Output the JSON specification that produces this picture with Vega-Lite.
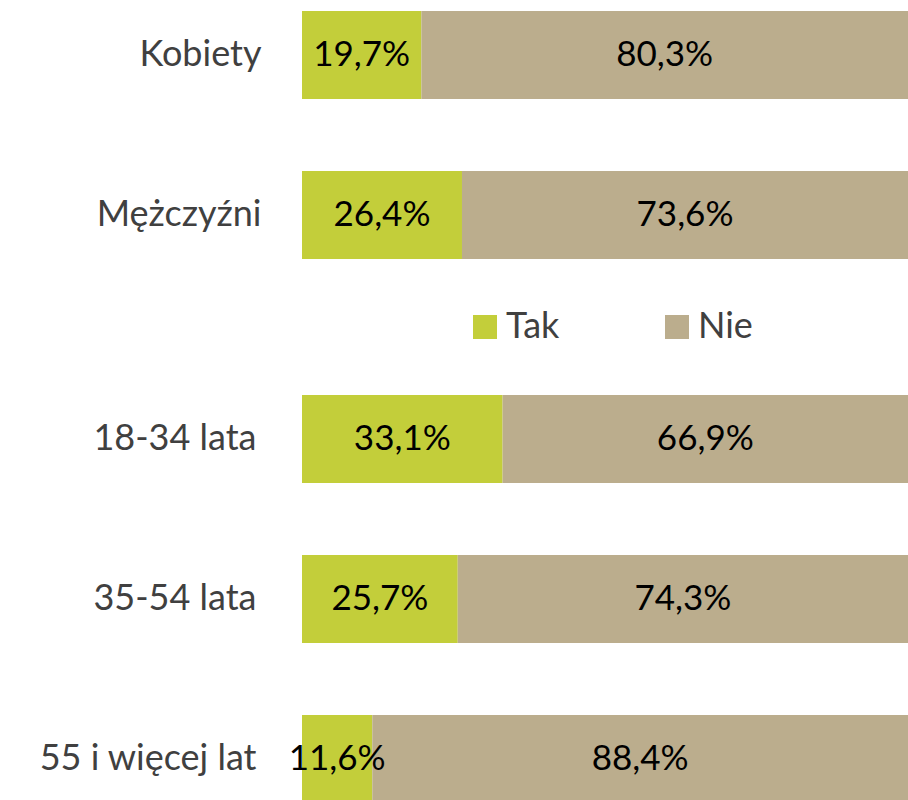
{
  "$schema": "https://vega.github.io/schema/vega-lite/v6.json",
  "padding": {"top": 11, "left": 0, "right": 0, "bottom": 0},
  "background": "white",
  "config": {
    "view": {"stroke": null},
    "font": "Lato",
    "concat": {"spacing": 50}
  },
  "resolve": {"legend": {"color": "independent"}},
  "vconcat": [
    {
      "width": 606,
      "height": 248,
      "data": {"values": [
        {"grupa": "Kobiety", "odp": "Tak", "o": 1, "v": 19.7, "lab": "19,7%"},
        {"grupa": "Kobiety", "odp": "Nie", "o": 2, "v": 80.3, "lab": "80,3%"},
        {"grupa": "Mężczyźni", "odp": "Tak", "o": 1, "v": 26.4, "lab": "26,4%"},
        {"grupa": "Mężczyźni", "odp": "Nie", "o": 2, "v": 73.6, "lab": "73,6%"}
      ]},
      "transform": [
        {"stack": "v", "groupby": ["grupa"], "as": ["x0", "x1"], "sort": [{"field": "o", "order": "ascending"}]},
        {"calculate": "(datum.x0 + datum.x1) / 2", "as": "xm"}
      ],
      "encoding": {
        "y": {"field": "grupa", "type": "nominal", "sort": ["Kobiety", "Mężczyźni"],
          "scale": {"paddingInner": 0.45, "paddingOuter": 0},
          "axis": {"title": null, "domain": false, "ticks": false, "labelFontSize": 36, "labelColor": "#404040", "labelPadding": 41, "labelLimit": 400, "minExtent": 302, "maxExtent": 302, "labelFont": "Lato"}}
      },
      "layer": [
        {
          "mark": {"type": "bar"},
          "encoding": {
            "x": {"field": "x0", "type": "quantitative", "scale": {"domain": [0, 100]}, "axis": null},
            "x2": {"field": "x1"},
            "color": {"field": "odp", "type": "nominal",
              "scale": {"domain": ["Tak", "Nie"], "range": ["#C3CE3A", "#BBAD8D"]},
              "legend": {"title": null, "orient": "none", "direction": "horizontal", "legendX": 165, "legendY": 298, "symbolType": "square", "symbolSize": 576, "symbolStrokeWidth": 0, "labelFontSize": 36, "labelColor": "#404040", "labelFont": "Lato", "columnPadding": 99, "labelOffset": 3, "padding": 0}}
          }
        },
        {
          "mark": {"type": "text", "fontSize": 35, "color": "black", "font": "Lato"},
          "encoding": {
            "x": {"field": "xm", "type": "quantitative"},
            "text": {"field": "lab"}
          }
        }
      ]
    },
    {
      "width": 606,
      "height": 408,
      "data": {"values": [
        {"grupa": "18-34 lata", "odp": "Tak", "o": 1, "v": 33.1, "lab": "33,1%"},
        {"grupa": "18-34 lata", "odp": "Nie", "o": 2, "v": 66.9, "lab": "66,9%"},
        {"grupa": "35-54 lata", "odp": "Tak", "o": 1, "v": 25.7, "lab": "25,7%"},
        {"grupa": "35-54 lata", "odp": "Nie", "o": 2, "v": 74.3, "lab": "74,3%"},
        {"grupa": "55 i więcej lat", "odp": "Tak", "o": 1, "v": 11.6, "lab": "11,6%"},
        {"grupa": "55 i więcej lat", "odp": "Nie", "o": 2, "v": 88.4, "lab": "88,4%"}
      ]},
      "transform": [
        {"stack": "v", "groupby": ["grupa"], "as": ["x0", "x1"], "sort": [{"field": "o", "order": "ascending"}]},
        {"calculate": "(datum.x0 + datum.x1) / 2", "as": "xm"}
      ],
      "encoding": {
        "y": {"field": "grupa", "type": "nominal", "sort": ["18-34 lata", "35-54 lata", "55 i więcej lat"],
          "scale": {"paddingInner": 0.45, "paddingOuter": 0},
          "axis": {"title": null, "domain": false, "ticks": false, "labelFontSize": 36, "labelColor": "#404040", "labelPadding": 46, "labelLimit": 400, "minExtent": 302, "maxExtent": 302, "labelFont": "Lato"}}
      },
      "layer": [
        {
          "mark": {"type": "bar"},
          "encoding": {
            "x": {"field": "x0", "type": "quantitative", "scale": {"domain": [0, 100]}, "axis": null},
            "x2": {"field": "x1"},
            "color": {"field": "odp", "type": "nominal",
              "scale": {"domain": ["Tak", "Nie"], "range": ["#C3CE3A", "#BBAD8D"]},
              "legend": null}
          }
        },
        {
          "mark": {"type": "text", "fontSize": 35, "color": "black", "font": "Lato"},
          "encoding": {
            "x": {"field": "xm", "type": "quantitative"},
            "text": {"field": "lab"}
          }
        }
      ]
    }
  ]
}
